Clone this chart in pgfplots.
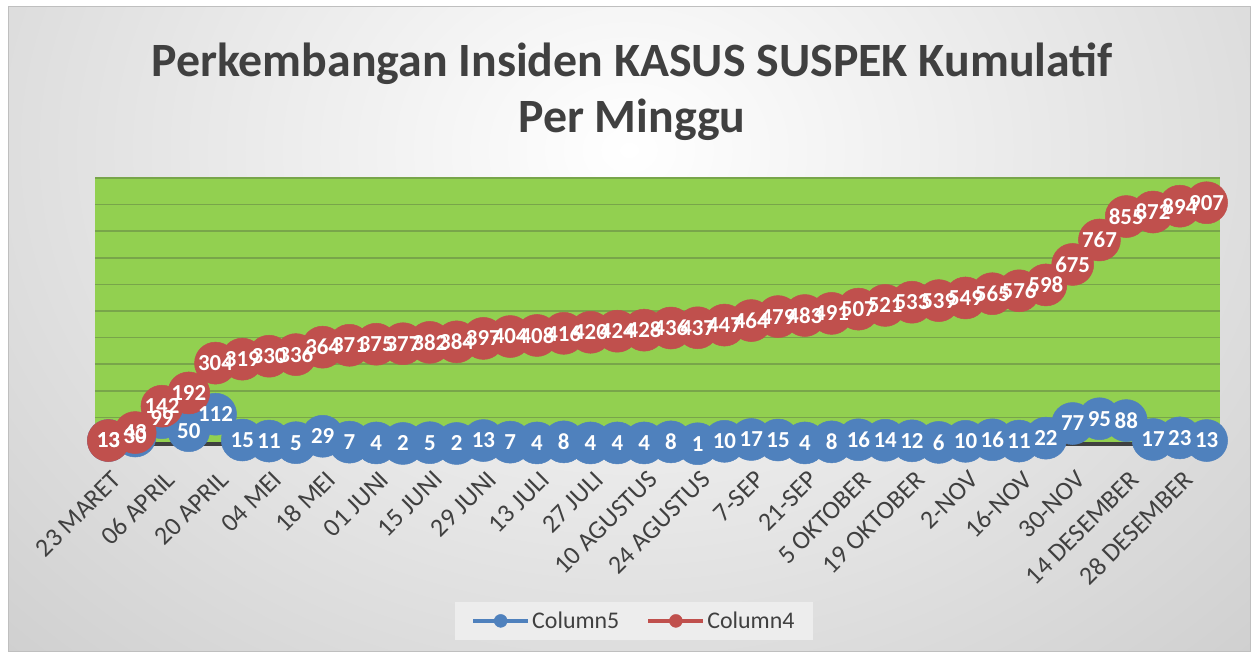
\documentclass[border=0pt]{standalone}
\usepackage{fontspec}
\setmainfont{Carlito}
\usepackage{pgfplots}
\usepackage{pgfplotstable}
\pgfplotsset{compat=1.18}
\definecolor{c5}{HTML}{4F81BD}
\definecolor{c4}{HTML}{C0504D}
\definecolor{gfill}{HTML}{92D050}
\definecolor{ttl}{HTML}{404040}
\definecolor{grd}{HTML}{78A54A}

\pgfplotstableread{
x b r
0 13 13
1 30 43
2 99 142
3 50 192
4 112 304
5 15 319
6 11 330
7 5 336
8 29 364
9 7 371
10 4 375
11 2 377
12 5 382
13 2 384
14 13 397
15 7 404
16 4 408
17 8 416
18 4 420
19 4 424
20 4 428
21 8 436
22 1 437
23 10 447
24 17 464
25 15 479
26 4 483
27 8 491
28 16 507
29 14 521
30 12 533
31 6 539
32 10 549
33 16 565
34 11 576
35 22 598
36 77 675
37 95 767
38 88 855
39 17 872
40 23 894
41 13 907
}\data

\begin{document}
\begin{tikzpicture}
\useasboundingbox (0bp,0bp) rectangle (1258bp,659bp);
\fill[white] (0bp,0bp) rectangle (1258bp,659bp);
\begin{scope}
\clip (8bp,7bp) rectangle (1250bp,652bp);
\shade[inner color=white, outer color=black!26] (-613bp,-491bp) rectangle (1871bp,1509bp);
\end{scope}
\draw[black!25, line width=1bp] (8bp,7bp) rectangle (1250bp,652bp);
\node[font=\bfseries\fontsize{48}{56}\selectfont, text=ttl, align=center] at (632bp,567bp) {Perkembangan Insiden KASUS SUSPEK Kumulatif\\Per Minggu};
\begin{axis}[
  at={(95bp,215bp)}, anchor=south west,
  scale only axis, width=1125bp, height=266bp,
  xmin=-0.5, xmax=41.5, ymin=0, ymax=1000,
  clip=false,
  axis background/.style={fill=gfill},
  axis x line*=bottom, axis y line*=left,
  x axis line style={draw=ttl, line width=3bp},
  y axis line style={draw=none},
  ytick={100,200,...,1000}, yticklabels={},
  ymajorgrids, major grid style={draw=grd, line width=1.5bp},
  major tick length=0pt,
  xtick={0,2,...,40},
  xticklabels={23 MARET, 06 APRIL, 20 APRIL, 04 MEI, 18 MEI, 01 JUNI, 15 JUNI, 29 JUNI, 13 JULI, 27 JULI, 10 AGUSTUS, 24 AGUSTUS, 7-SEP, 21-SEP, 5 OKTOBER, 19 OKTOBER, 2-NOV, 16-NOV, 30-NOV, 14 DESEMBER, 28 DESEMBER},
  xticklabel style={yshift=-30bp, xshift=10bp, rotate=45, anchor=east, font=\fontsize{26}{30}\selectfont, text=ttl, inner sep=2bp},
  legend cell align=left,
  legend image code/.code={\draw[#1, line width=4bp] (0bp,0bp) -- (55bp,0bp); \fill[#1] (27.5bp,0bp) circle (6.5bp);},
  legend style={at={(0.479,-0.665)}, anchor=center, legend columns=2, draw=none, fill=black!7,
    font=\fontsize{24}{28}\selectfont, text=ttl, inner xsep=16bp, inner ysep=8bp,
    /tikz/every even column/.append style={column sep=25bp}},
  /pgf/number format/assume math mode=true,
]
\addplot[c5, line width=4bp, mark=*, mark size=21bp, mark options={solid, line width=0.5bp, fill=c5, draw=c5}, forget plot] table[x=x,y=b]{\data};
\addplot[c4, line width=4bp, mark=*, mark size=21bp, mark options={solid, line width=0.5bp, fill=c4, draw=c4}, forget plot] table[x=x,y=r]{\data};
\addplot[draw=none, forget plot, nodes near coords, nodes near coords align=center,
  every node near coord/.append style={anchor=center, text=white, font=\bfseries\fontsize{23}{26}\selectfont}] table[x=x,y=b]{\data};
\addplot[draw=none, forget plot, nodes near coords, nodes near coords align=center,
  every node near coord/.append style={anchor=center, text=white, font=\bfseries\fontsize{23}{26}\selectfont}] table[x=x,y=r]{\data};
\addlegendimage{c5}
\addlegendentry{Column5}
\addlegendimage{c4}
\addlegendentry{Column4}
\end{axis}
\end{tikzpicture}
\end{document}
